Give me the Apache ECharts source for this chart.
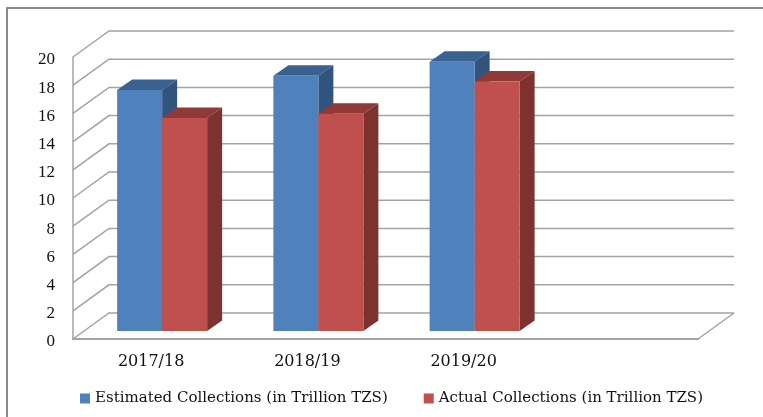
<!DOCTYPE html>
<html>
<head>
<meta charset="utf-8">
<style>
  html, body { margin: 0; padding: 0; background: #fff; }
  #chart { width: 763px; height: 417px; }
</style>
</head>
<body>
<div id="chart"></div>
<script src="https://cdn.jsdelivr.net/npm/echarts@6/dist/echarts.min.js"></script>
<script>
const categories = ['2017/18', '2018/19', '2019/20', '']
const estimated = [17.1, 18.1, 19.1]
const actual = [15.1, 15.4, 17.7]
const yTicks = [0, 2, 4, 6, 8, 10, 12, 14, 16, 18, 20]

// fake 3D: wall offset, then bar placement inside the depth
const WALL_DX = 36
const WALL_DY = -26
const BAR_DX = 11
const BAR_DY = -8
const DEPTH_DX = 15
const DEPTH_DY = -10.5
const BAR_W = 45
const LINE_COLOR = '#a3a3a3'

function poly(points, fill) {
  return { type: 'polygon', shape: { points: points }, style: { fill: fill } }
}

function wallItem(params, api) {
  const cs = params.coordSys
  const y = api.coord([0, api.value(1)])[1]
  const x0 = cs.x
  const x1 = cs.x + WALL_DX
  const x2 = cs.x + cs.width + WALL_DX
  const children = [{
    type: 'polyline',
    shape: { points: [[x0, y], [x1, y + WALL_DY], [x2, y + WALL_DY]] },
    style: { fill: 'none', stroke: LINE_COLOR, lineWidth: 1.5 }
  }]
  if (api.value(1) === 0) {
    children.push({
      type: 'line',
      shape: { x1: x0 + cs.width, y1: y, x2: x2, y2: y + WALL_DY },
      style: { stroke: LINE_COLOR, lineWidth: 1.5 }
    })
  }
  return { type: 'group', children: children }
}

function barRenderer(shift, front, top, side) {
  return function (params, api) {
    const p = api.coord([api.value(0), api.value(1)])
    const base = api.coord([api.value(0), 0])[1] + BAR_DY
    const xl = p[0] + BAR_DX + shift
    const xr = xl + BAR_W
    const yt = p[1] + BAR_DY
    return {
      type: 'group',
      children: [
        poly([[xl, yt], [xl + DEPTH_DX, yt + DEPTH_DY], [xr + DEPTH_DX, yt + DEPTH_DY], [xr, yt]], top),
        poly([[xr, yt], [xr + DEPTH_DX, yt + DEPTH_DY], [xr + DEPTH_DX, base + DEPTH_DY], [xr, base]], side),
        poly([[xl, yt], [xr, yt], [xr, base], [xl, base]], front)
      ]
    }
  }
}

const chart = echarts.init(document.getElementById('chart'))
chart.setOption({
  animation: false,
  backgroundColor: '#fff',
  grid: { left: 73, right: 65, top: 57, height: 282 },
  graphic: [
    { type: 'polyline', silent: true, shape: { points: [[7, 417], [7, 8], [763, 8]] },
      style: { fill: 'none', stroke: '#8c8c8c', lineWidth: 2 } }
  ],
  legend: {
    left: 75,
    top: 386,
    itemWidth: 10,
    itemHeight: 10,
    itemGap: 36,
    data: ['Estimated Collections (in Trillion TZS)', 'Actual Collections (in Trillion TZS)'],
    icon: 'rect',
    textStyle: { fontFamily: 'DejaVu Serif', fontSize: 15, color: '#111' }
  },
  xAxis: {
    type: 'category',
    data: categories,
    axisTick: { show: false },
    axisLine: { lineStyle: { color: LINE_COLOR, width: 2 } },
    axisLabel: { fontFamily: 'DejaVu Serif', fontSize: 16, color: '#111', margin: 15 }
  },
  yAxis: {
    type: 'value',
    min: 0,
    max: 20,
    interval: 2,
    splitLine: { show: false },
    axisTick: { show: false },
    axisLine: { show: true, lineStyle: { color: LINE_COLOR, width: 1.5 } },
    axisLabel: { fontFamily: 'Liberation Serif', fontSize: 17, color: '#111', margin: 18, verticalAlign: 'top', lineHeight: 6 }
  },
  series: [
    {
      type: 'custom',
      silent: true,
      clip: false,
      z: 1,
      renderItem: wallItem,
      data: yTicks.map(t => [0, t])
    },
    {
      name: 'Estimated Collections (in Trillion TZS)',
      type: 'custom',
      clip: false,
      z: 2,
      itemStyle: { color: '#4f81bd' },
      renderItem: barRenderer(-BAR_W, '#4f81bd', '#3a6291', '#31547e'),
      data: estimated.map((v, i) => [i, v])
    },
    {
      name: 'Actual Collections (in Trillion TZS)',
      type: 'custom',
      clip: false,
      z: 3,
      itemStyle: { color: '#c0504d' },
      renderItem: barRenderer(0, '#c0504d', '#8f3a38', '#7d3230'),
      data: actual.map((v, i) => [i, v])
    }
  ]
})
</script>
</body>
</html>
